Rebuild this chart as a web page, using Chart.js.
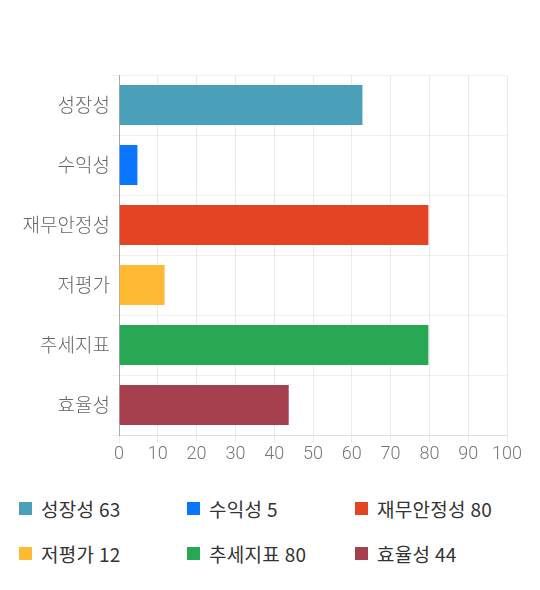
<!DOCTYPE html>
<html>
<head>
<meta charset="utf-8">
<script src="https://cdn.jsdelivr.net/npm/chart.js@4"></script>
<style>
  html, body { margin: 0; padding: 0; background: #fff; }
  body { width: 540px; height: 590px; overflow: hidden; font-family: "Noto Sans CJK KR", Roboto, sans-serif; }
  #wrap { position: relative; width: 540px; height: 475px; }
  #legend { position: absolute; left: 19px; top: 486px; width: 520px; display: flex; flex-wrap: wrap; }
  .item { width: 168px; height: 45px; display: flex; align-items: center; font-size: 19px; color: #333; letter-spacing: 0.3px; }
  .sw { width: 13px; height: 13px; margin-right: 9px; flex: none; }
</style>
</head>
<body>
<div id="wrap"><canvas id="c" width="540" height="475"></canvas></div>
<div id="legend"></div>
<script>
const categories = ["성장성", "수익성", "재무안정성", "저평가", "추세지표", "효율성"];
const values = [63, 5, 80, 12, 80, 44];
const colors = ["#4aa0b9", "#0a76ff", "#e24424", "#ffb933", "#28a855", "#a6404e"];
const xTicks = [0, 10, 20, 30, 40, 50, 60, 70, 80, 90, 100];

const legend = document.getElementById('legend');
categories.forEach((c, i) => {
  const d = document.createElement('div');
  d.className = 'item';
  d.innerHTML = '<span class="sw" style="background:' + colors[i] + '"></span><span>' + c + ' ' + values[i] + '</span>';
  legend.appendChild(d);
});

new Chart(document.getElementById('c'), {
  type: 'bar',
  data: {
    labels: categories,
    datasets: [{
      data: values,
      backgroundColor: colors,
      borderColor: 'rgba(255,255,255,0.35)',
      borderWidth: 1,
      barPercentage: 0.7,
      categoryPercentage: 1.0
    }]
  },
  options: {
    indexAxis: 'y',
    responsive: false,
    animation: false,
    layout: { padding: { top: 75, right: 33, left: 0, bottom: 0 } },
    plugins: { legend: { display: false }, tooltip: { enabled: false } },
    scales: {
      x: {
        min: 0, max: 100,
        afterBuildTicks: (s) => { s.ticks = xTicks.map(v => ({ value: v })); },
        afterFit: (s) => { s.height = 40; },
        grid: { color: 'rgba(0,0,0,0.08)', tickLength: 8 },
        border: { color: 'rgba(0,0,0,0.08)' },
        ticks: { color: '#777', padding: 1, font: { family: 'Roboto', size: 18, weight: 300 } }
      },
      y: {
        afterFit: (s) => { s.width = 119; },
        grid: { color: 'rgba(0,0,0,0.06)', tickLength: 8, offset: true },
        border: { color: '#aaa' },
        ticks: { color: '#666', padding: 1, font: { family: '"Noto Sans CJK KR"', size: 19, weight: 300 } }
      }
    }
  }
});
</script>
</body>
</html>
